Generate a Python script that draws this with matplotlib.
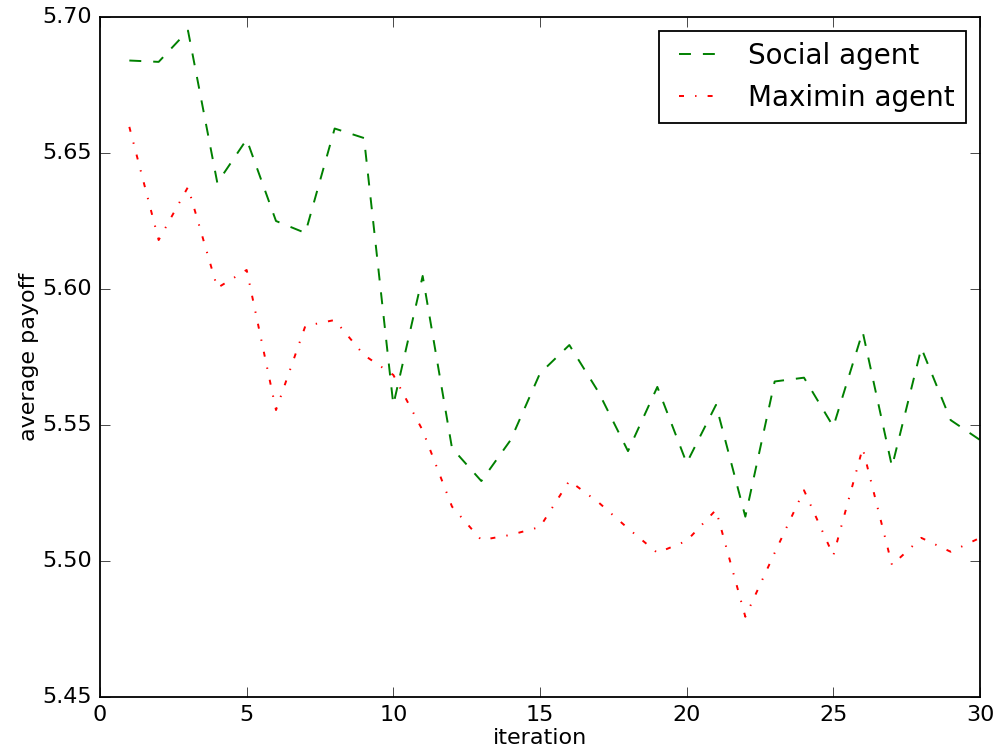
import matplotlib
matplotlib.use('Agg')
from matplotlib import pyplot as plt
import numpy as np

plt.style.use('classic')

iterations = list(range(1, 31))

social = [5.684, 5.6835, 5.695, 5.639, 5.655, 5.625, 5.6206, 5.659, 5.6555, 5.5574,
          5.6048, 5.5415, 5.5294, 5.5445, 5.569, 5.5794, 5.562, 5.5404, 5.564, 5.536,
          5.5574, 5.5163, 5.566, 5.5674, 5.5494, 5.5843, 5.5347, 5.5783, 5.5518, 5.5445]

maximin = [5.6596, 5.618, 5.6375, 5.6004, 5.607, 5.5555, 5.5864, 5.5886, 5.5757, 5.5684,
           5.548, 5.52, 5.5077, 5.5096, 5.5125, 5.5295, 5.5215, 5.512, 5.503, 5.5074,
           5.5188, 5.4795, 5.503, 5.526, 5.502, 5.5415, 5.4985, 5.5085, 5.5034, 5.5085]

fig = plt.figure(figsize=(9.96, 7.51), dpi=100)
fig.patch.set_facecolor('white')
ax = fig.add_axes([100/996, 54/751, 880/996, 680/751])

ax.plot(iterations, social, color='g', linestyle='--', dashes=(8.6, 8.6), linewidth=1.4,
        label='Social agent')
ax.plot(iterations, maximin, color='r', linestyle='-.', dashes=(3.6, 8, 1, 8), linewidth=1.4,
        label='Maximin agent')

ax.set_xlim(0, 30)
ax.set_ylim(5.45, 5.70)
ax.set_xticks(np.arange(0, 31, 5))
ax.set_yticks(np.arange(5.45, 5.701, 0.05))
ax.set_yticklabels(['5.45', '5.50', '5.55', '5.60', '5.65', '5.70'])
ax.tick_params(labelsize=16, length=7, pad=6)
for s in ax.spines.values():
    s.set_linewidth(1.3)

ax.set_xlabel('iteration', fontsize=16, labelpad=2)
ax.set_ylabel('average payoff', fontsize=16, labelpad=2)

leg = ax.legend(loc='upper right', fontsize=20)
leg.get_frame().set_linewidth(1.3)

plt.savefig('out.png', dpi=100)
plt.close()
